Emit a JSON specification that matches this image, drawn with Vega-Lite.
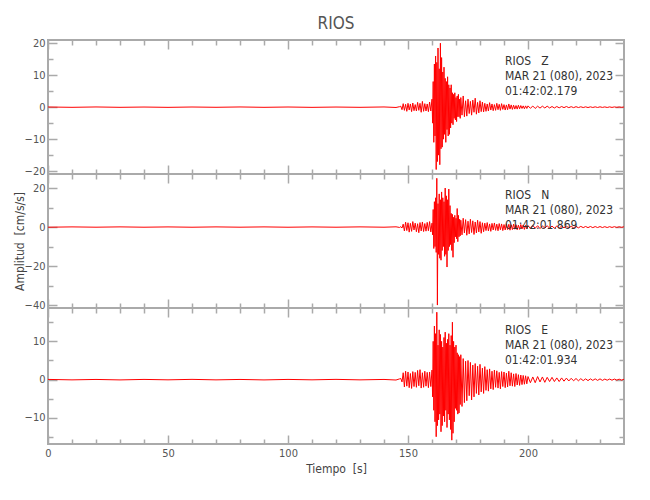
{
  "$schema": "https://vega.github.io/schema/vega-lite/v6.json",
  "padding": {"left": 12, "top": 15, "right": 5, "bottom": 5},
  "background": "white",
  "title": {"text": "RIOS", "anchor": "middle", "frame": "group", "fontSize": 17, "font": "DejaVu Sans Condensed, sans-serif", "fontWeight": "normal", "color": "#555555", "offset": 3},
  "data": {"values": [
    {"t":0,"z":0.05,"n":-0.08,"e":0.06},{"t":10,"z":-0.05,"n":0.08,"e":-0.06},{"t":20,"z":0.06,"n":-0.07,"e":0.05},{"t":30,"z":-0.05,"n":0.09,"e":-0.07},{"t":40,"z":0.04,"n":-0.08,"e":0.06},{"t":50,"z":-0.06,"n":0.07,"e":-0.05},{"t":60,"z":0.05,"n":-0.09,"e":0.07},{"t":70,"z":-0.04,"n":0.08,"e":-0.06},{"t":80,"z":0.06,"n":-0.07,"e":0.05},{"t":90,"z":-0.05,"n":0.08,"e":-0.07},{"t":100,"z":0.05,"n":-0.09,"e":0.06},{"t":110,"z":-0.06,"n":0.07,"e":-0.05},{"t":120,"z":0.04,"n":-0.08,"e":0.07},{"t":130,"z":-0.05,"n":0.09,"e":-0.06},{"t":140,"z":0.06,"n":-0.08,"e":0.05},{"t":145,"z":-0.1,"n":0.12,"e":-0.1},{"t":146.5,"z":0.15,"n":-0.2,"e":0.2},
    {"t":147,"z":0.3,"n":0.2,"e":0.3},{"t":147.5,"z":-0.8,"n":-0.5,"e":-0.6},{"t":148,"z":1.1,"n":1.5,"e":1.8},{"t":148.5,"z":-1.0,"n":-2.0,"e":-1.9},{"t":149,"z":0.9,"n":2.5,"e":2.2},{"t":149.5,"z":-1.3,"n":-1.8,"e":-1.7},{"t":150,"z":1.2,"n":2.2,"e":2.0},{"t":150.5,"z":-0.9,"n":-2.6,"e":-2.1},{"t":151,"z":1.0,"n":1.9,"e":1.6},{"t":151.5,"z":-1.4,"n":-2.2,"e":-2.3},{"t":152,"z":1.3,"n":2.8,"e":2.1},{"t":152.5,"z":-1.1,"n":-1.5,"e":-1.8},{"t":153,"z":0.8,"n":2.0,"e":1.9},{"t":153.5,"z":-1.2,"n":-2.4,"e":-2.0},{"t":154,"z":1.5,"n":1.7,"e":2.4},{"t":154.5,"z":-1.0,"n":-2.9,"e":-1.6},{"t":155,"z":1.2,"n":2.3,"e":2.6},{"t":155.5,"z":-1.6,"n":-2.0,"e":-2.2},{"t":156,"z":1.8,"n":2.6,"e":1.8},{"t":156.5,"z":-1.3,"n":-2.3,"e":-2.0},{"t":157,"z":1.1,"n":1.8,"e":2.2},{"t":157.5,"z":-1.2,"n":-2.1,"e":-1.7},{"t":158,"z":1.0,"n":2.4,"e":1.9},{"t":158.5,"z":-1.4,"n":-1.9,"e":-2.1},{"t":159,"z":1.6,"n":2.8,"e":2.0},{"t":159.5,"z":-1.2,"n":-2.5,"e":-1.8},
    {"t":160,"z":2.5,"n":2.0,"e":2.5},{"t":160.25,"z":-5.0,"n":-4.0,"e":-4.5},{"t":160.5,"z":8.0,"n":9.0,"e":10.0},{"t":160.75,"z":-11.0,"n":-11.0,"e":-8.0},{"t":161,"z":13.5,"n":13.0,"e":14.0},{"t":161.25,"z":-9.0,"n":-10.0,"e":-11.0},{"t":161.5,"z":16.0,"n":15.0,"e":12.0},{"t":161.75,"z":-19.5,"n":-13.0,"e":-14.9},{"t":162,"z":14.0,"n":25.0,"e":17.6},{"t":162.25,"z":-17.0,"n":-40.0,"e":-12.0},{"t":162.5,"z":18.5,"n":12.0,"e":9.0},{"t":162.75,"z":-15.0,"n":-14.0,"e":-10.5},{"t":163,"z":12.0,"n":17.0,"e":13.0},{"t":163.25,"z":-18.0,"n":-16.0,"e":-9.0},{"t":163.5,"z":20.0,"n":14.0,"e":11.8},{"t":163.75,"z":-13.0,"n":-17.0,"e":-13.6},{"t":164,"z":15.5,"n":18.0,"e":10.0},{"t":164.25,"z":-12.5,"n":-12.0,"e":-12.0},{"t":164.5,"z":11.0,"n":15.0,"e":8.5},{"t":164.75,"z":-10.0,"n":-10.0,"e":-9.5},{"t":165,"z":12.5,"n":13.0,"e":11.0},{"t":165.25,"z":-8.5,"n":-15.0,"e":-11.0},{"t":165.5,"z":9.0,"n":20.0,"e":12.4},{"t":165.75,"z":-11.0,"n":-14.0,"e":-8.0},{"t":166,"z":8.0,"n":16.0,"e":9.5},{"t":166.25,"z":-7.0,"n":-20.5,"e":-12.5},{"t":166.5,"z":9.5,"n":14.0,"e":10.5},{"t":166.75,"z":-9.0,"n":-12.0,"e":-9.0},{"t":167,"z":7.0,"n":19.5,"e":12.0},{"t":167.25,"z":-8.5,"n":-10.0,"e":-10.5},{"t":167.5,"z":6.0,"n":11.0,"e":9.0},{"t":167.75,"z":-6.5,"n":-9.0,"e":-13.0},{"t":168,"z":7.0,"n":7.0,"e":11.5},{"t":168.25,"z":-5.0,"n":-12.0,"e":-15.8},{"t":168.5,"z":4.5,"n":6.5,"e":15.0},{"t":168.75,"z":-5.5,"n":-15.5,"e":-14.0},{"t":169,"z":4.0,"n":5.0,"e":10.0},{"t":169.25,"z":-3.5,"n":-8.0,"e":-11.0},{"t":169.5,"z":4.5,"n":6.0,"e":8.5},{"t":169.75,"z":-4.0,"n":-5.0,"e":-7.5},{"t":170,"z":3.0,"n":4.5,"e":9.0},{"t":170.25,"z":-4.5,"n":-6.0,"e":-8.0},{"t":170.5,"z":3.5,"n":9.5,"e":7.0},{"t":170.75,"z":-3.0,"n":-7.5,"e":-9.0},{"t":171,"z":4.0,"n":6.0,"e":6.5},{"t":171.25,"z":-3.0,"n":-5.0,"e":-8.7},{"t":171.5,"z":2.5,"n":4.0,"e":6.0},{"t":171.75,"z":-3.5,"n":-4.5,"e":-6.5},
    {"t":172,"z":3.0,"n":3.5,"e":6.5},{"t":172.5,"z":-2.5,"n":-4.0,"e":-7.0},{"t":173,"z":3.5,"n":4.5,"e":5.5},{"t":173.5,"z":-3.0,"n":-3.0,"e":-6.0},{"t":174,"z":2.0,"n":3.8,"e":4.8},{"t":174.5,"z":-2.8,"n":-4.2,"e":-5.5},{"t":175,"z":2.5,"n":3.0,"e":5.0},{"t":175.5,"z":-2.0,"n":-3.5,"e":-4.2},{"t":176,"z":1.8,"n":4.0,"e":4.5},{"t":176.5,"z":-2.5,"n":-2.8,"e":-5.3},{"t":177,"z":2.2,"n":3.2,"e":3.8},{"t":177.5,"z":-1.6,"n":-3.8,"e":-4.5},{"t":178,"z":2.8,"n":2.6,"e":4.2},{"t":178.5,"z":-2.2,"n":-3.0,"e":-3.6},{"t":179,"z":1.5,"n":3.5,"e":3.5},{"t":179.5,"z":-1.8,"n":-2.5,"e":-4.0},{"t":180,"z":2.0,"n":2.8,"e":4.0},{"t":180.5,"z":-1.4,"n":-3.2,"e":-3.2},{"t":181,"z":1.6,"n":2.2,"e":3.0},{"t":181.5,"z":-1.5,"n":-2.4,"e":-3.6},{"t":182,"z":1.2,"n":2.0,"e":3.4},{"t":182.5,"z":-1.3,"n":-1.8,"e":-2.8},{"t":183,"z":1.0,"n":2.3,"e":2.6},{"t":183.5,"z":-1.2,"n":-2.0,"e":-3.0},{"t":184,"z":1.4,"n":1.6,"e":2.8},{"t":184.5,"z":-0.9,"n":-2.2,"e":-2.4},{"t":185,"z":1.0,"n":1.9,"e":2.2},{"t":185.5,"z":-1.1,"n":-1.5,"e":-2.6},{"t":186,"z":0.8,"n":2.1,"e":2.5},{"t":186.5,"z":-1.0,"n":-1.7,"e":-2.0},{"t":187,"z":1.2,"n":1.5,"e":2.3},{"t":187.5,"z":-0.8,"n":-1.9,"e":-2.2},{"t":188,"z":0.9,"n":1.8,"e":1.9},{"t":188.5,"z":-1.0,"n":-1.4,"e":-2.4},{"t":189,"z":1.1,"n":1.6,"e":2.1},{"t":189.5,"z":-0.7,"n":-1.8,"e":-1.8},{"t":190,"z":0.8,"n":1.3,"e":2.0},{"t":190.5,"z":-0.9,"n":-1.5,"e":-2.1},{"t":191,"z":0.7,"n":1.7,"e":1.7},{"t":191.5,"z":-0.8,"n":-1.3,"e":-1.9},{"t":192,"z":1.0,"n":1.4,"e":2.2},{"t":192.5,"z":-0.6,"n":-1.6,"e":-1.6},{"t":193,"z":0.7,"n":1.2,"e":1.8},{"t":193.5,"z":-0.7,"n":-1.3,"e":-1.7},{"t":194,"z":0.6,"n":1.5,"e":1.5},{"t":194.5,"z":-0.6,"n":-1.1,"e":-1.8},{"t":195,"z":0.5,"n":1.2,"e":1.6},{"t":195.5,"z":-0.6,"n":-1.4,"e":-1.4},{"t":196,"z":0.6,"n":1.0,"e":1.3},{"t":196.5,"z":-0.5,"n":-1.2,"e":-1.5},{"t":197,"z":0.5,"n":1.3,"e":1.2},{"t":197.5,"z":-0.4,"n":-1.0,"e":-1.3},{"t":198,"z":0.4,"n":1.1,"e":1.1},{"t":198.5,"z":-0.5,"n":-1.2,"e":-1.2},{"t":199,"z":0.4,"n":0.9,"e":1.0},{"t":199.5,"z":-0.4,"n":-1.0,"e":-1.1},
    {"t":200,"z":0.4,"n":0.8,"e":0.8},{"t":201,"z":-0.35,"n":-0.7,"e":-0.8},{"t":202,"z":0.35,"n":0.8,"e":0.7},{"t":203,"z":-0.4,"n":-0.6,"e":-0.8},{"t":204,"z":0.3,"n":0.7,"e":0.8},{"t":205,"z":-0.3,"n":-0.8,"e":-0.6},{"t":206,"z":0.3,"n":0.6,"e":0.7},{"t":207,"z":-0.25,"n":-0.6,"e":-0.7},{"t":208,"z":0.3,"n":0.7,"e":0.6},{"t":209,"z":-0.25,"n":-0.6,"e":-0.5},{"t":210,"z":0.2,"n":0.5,"e":0.6},{"t":211,"z":-0.25,"n":-0.6,"e":-0.5},{"t":212,"z":0.2,"n":0.5,"e":0.45},{"t":213,"z":-0.2,"n":-0.5,"e":-0.5},{"t":214,"z":0.2,"n":0.45,"e":0.45},{"t":215,"z":-0.15,"n":-0.4,"e":-0.4},{"t":216,"z":0.2,"n":0.45,"e":0.4},{"t":217,"z":-0.15,"n":-0.4,"e":-0.35},{"t":218,"z":0.15,"n":0.4,"e":0.35},{"t":219,"z":-0.15,"n":-0.4,"e":-0.3},{"t":220,"z":0.15,"n":0.35,"e":0.3},{"t":221,"z":-0.12,"n":-0.4,"e":-0.3},{"t":222,"z":0.12,"n":0.35,"e":0.25},{"t":223,"z":-0.12,"n":-0.3,"e":-0.25},{"t":224,"z":0.1,"n":0.3,"e":0.2},{"t":225,"z":-0.12,"n":-0.3,"e":-0.25},{"t":226,"z":0.1,"n":0.3,"e":0.2},{"t":227,"z":-0.1,"n":-0.3,"e":-0.2},{"t":228,"z":0.1,"n":0.25,"e":0.2},{"t":229,"z":-0.1,"n":-0.25,"e":-0.2},{"t":230,"z":0.1,"n":0.25,"e":0.2},{"t":231,"z":-0.08,"n":-0.25,"e":-0.2},{"t":232,"z":0.08,"n":0.2,"e":0.15},{"t":233,"z":-0.1,"n":-0.25,"e":-0.15},{"t":234,"z":0.08,"n":0.2,"e":0.15},{"t":235,"z":-0.08,"n":-0.2,"e":-0.15},{"t":236,"z":0.08,"n":0.2,"e":0.15},{"t":237,"z":-0.06,"n":-0.2,"e":-0.12},{"t":238,"z":0.06,"n":0.15,"e":0.12},{"t":239,"z":-0.06,"n":-0.15,"e":-0.12},{"t":240,"z":0.05,"n":0.15,"e":0.1}
  ]},
  "spacing": 0,
  "bounds": "flush",
  "vconcat": [
    {
      "width": 576, "height": 134,
      "layer": [
        {"mark": {"type": "line", "color": "#ff0000", "strokeWidth": 1, "clip": true},
         "encoding": {
           "x": {"field": "t", "type": "quantitative", "scale": {"domain": [0, 240], "nice": false, "zero": false},
                 "axis": {"orient": "bottom", "values": [0, 50, 100, 150, 200], "labels": false, "title": null, "tickSize": -9}},
           "y": {"field": "z", "type": "quantitative", "scale": {"domain": [-20.9, 21], "nice": false, "zero": false},
                 "axis": {"orient": "left", "values": [-20, -10, 0, 10, 20], "title": null, "tickSize": -9, "labelPadding": 12}}
         }},
        {"data": {"values": [{}]}, "mark": {"type": "point", "opacity": 0},
         "encoding": {
           "x": {"datum": 0, "type": "quantitative", "axis": {"orient": "bottom", "values": [10,20,30,40,60,70,80,90,110,120,130,140,160,170,180,190,210,220,230], "labels": false, "title": null, "tickSize": -5}},
           "y": {"datum": 0, "type": "quantitative", "axis": {"orient": "left", "values": [-15, -5, 5, 15], "labels": false, "title": null, "tickSize": -5}}
         }},
        {"data": {"values": [{}]}, "mark": {"type": "point", "opacity": 0},
         "encoding": {
           "x": {"datum": 0, "type": "quantitative", "axis": {"orient": "top", "values": [0, 50, 100, 150, 200], "labels": false, "title": null, "tickSize": -9}},
           "y": {"datum": 0, "type": "quantitative", "axis": {"orient": "right", "values": [-20, -10, 0, 10, 20], "labels": false, "title": null, "tickSize": -9}}
         }},
        {"data": {"values": [{}]}, "mark": {"type": "point", "opacity": 0},
         "encoding": {
           "x": {"datum": 0, "type": "quantitative", "axis": {"orient": "top", "values": [10,20,30,40,60,70,80,90,110,120,130,140,160,170,180,190,210,220,230], "labels": false, "title": null, "tickSize": -5}},
           "y": {"datum": 0, "type": "quantitative", "axis": {"orient": "right", "values": [-15, -5, 5, 15], "labels": false, "title": null, "tickSize": -5}}
         }},
        {"data": {"values": [{}]},
         "mark": {"type": "text", "text": ["RIOS\u00a0\u00a0\u00a0Z", "MAR 21 (080), 2023", "01:42:02.179"], "align": "left", "baseline": "top", "fontSize": 12, "lineHeight": 15, "color": "#333333", "font": "DejaVu Sans Condensed, sans-serif"},
         "encoding": {
           "x": {"datum": 190.4, "type": "quantitative", "axis": null},
           "y": {"datum": 15.9, "type": "quantitative", "axis": null}
         }}
      ],
      "resolve": {"axis": {"x": "independent", "y": "independent"}}
    },
    {
      "width": 576, "height": 134,
      "layer": [
        {"mark": {"type": "line", "color": "#ff0000", "strokeWidth": 1, "clip": true},
         "encoding": {
           "x": {"field": "t", "type": "quantitative", "scale": {"domain": [0, 240], "nice": false, "zero": false},
                 "axis": {"orient": "bottom", "values": [0, 50, 100, 150, 200], "labels": false, "title": null, "tickSize": -9}},
           "y": {"field": "n", "type": "quantitative", "scale": {"domain": [-41.5, 27.2], "nice": false, "zero": false},
                 "axis": {"orient": "left", "values": [-40, -20, 0, 20], "title": "Amplitud\u00a0\u00a0[cm/s/s]", "titlePadding": -2, "tickSize": -9, "labelPadding": 12}}
         }},
        {"data": {"values": [{}]}, "mark": {"type": "point", "opacity": 0},
         "encoding": {
           "x": {"datum": 0, "type": "quantitative", "axis": {"orient": "bottom", "values": [10,20,30,40,60,70,80,90,110,120,130,140,160,170,180,190,210,220,230], "labels": false, "title": null, "tickSize": -5}},
           "y": {"datum": 0, "type": "quantitative", "axis": {"orient": "left", "values": [-30, -10, 10], "labels": false, "title": null, "tickSize": -5}}
         }},
        {"data": {"values": [{}]}, "mark": {"type": "point", "opacity": 0},
         "encoding": {
           "x": {"datum": 0, "type": "quantitative", "axis": {"orient": "top", "values": [0, 50, 100, 150, 200], "labels": false, "title": null, "tickSize": -9}},
           "y": {"datum": 0, "type": "quantitative", "axis": {"orient": "right", "values": [-40, -20, 0, 20], "labels": false, "title": null, "tickSize": -9}}
         }},
        {"data": {"values": [{}]}, "mark": {"type": "point", "opacity": 0},
         "encoding": {
           "x": {"datum": 0, "type": "quantitative", "axis": {"orient": "top", "values": [10,20,30,40,60,70,80,90,110,120,130,140,160,170,180,190,210,220,230], "labels": false, "title": null, "tickSize": -5}},
           "y": {"datum": 0, "type": "quantitative", "axis": {"orient": "right", "values": [-30, -10, 10], "labels": false, "title": null, "tickSize": -5}}
         }},
        {"data": {"values": [{}]},
         "mark": {"type": "text", "text": ["RIOS\u00a0\u00a0\u00a0N", "MAR 21 (080), 2023", "01:42:01.869"], "align": "left", "baseline": "top", "fontSize": 12, "lineHeight": 15, "color": "#333333", "font": "DejaVu Sans Condensed, sans-serif"},
         "encoding": {
           "x": {"datum": 190.4, "type": "quantitative", "axis": null},
           "y": {"datum": 19.0, "type": "quantitative", "axis": null}
         }}
      ],
      "resolve": {"axis": {"x": "independent", "y": "independent"}}
    },
    {
      "width": 576, "height": 136,
      "layer": [
        {"mark": {"type": "line", "color": "#ff0000", "strokeWidth": 1, "clip": true},
         "encoding": {
           "x": {"field": "t", "type": "quantitative", "scale": {"domain": [0, 240], "nice": false, "zero": false},
                 "axis": {"orient": "bottom", "values": [0, 50, 100, 150, 200], "title": "Tiempo\u00a0\u00a0[s]", "tickSize": -9, "labelPadding": 12, "titlePadding": 5}},
           "y": {"field": "e", "type": "quantitative", "scale": {"domain": [-16.8, 18.7], "nice": false, "zero": false},
                 "axis": {"orient": "left", "values": [-10, 0, 10], "title": null, "tickSize": -9, "labelPadding": 12}}
         }},
        {"data": {"values": [{}]}, "mark": {"type": "point", "opacity": 0},
         "encoding": {
           "x": {"datum": 0, "type": "quantitative", "axis": {"orient": "bottom", "values": [10,20,30,40,60,70,80,90,110,120,130,140,160,170,180,190,210,220,230], "labels": false, "title": null, "tickSize": -5}},
           "y": {"datum": 0, "type": "quantitative", "axis": {"orient": "left", "values": [-15, -5, 5, 15], "labels": false, "title": null, "tickSize": -5}}
         }},
        {"data": {"values": [{}]}, "mark": {"type": "point", "opacity": 0},
         "encoding": {
           "x": {"datum": 0, "type": "quantitative", "axis": {"orient": "top", "values": [0, 50, 100, 150, 200], "labels": false, "title": null, "tickSize": -9}},
           "y": {"datum": 0, "type": "quantitative", "axis": {"orient": "right", "values": [-10, 0, 10], "labels": false, "title": null, "tickSize": -9}}
         }},
        {"data": {"values": [{}]}, "mark": {"type": "point", "opacity": 0},
         "encoding": {
           "x": {"datum": 0, "type": "quantitative", "axis": {"orient": "top", "values": [10,20,30,40,60,70,80,90,110,120,130,140,160,170,180,190,210,220,230], "labels": false, "title": null, "tickSize": -5}},
           "y": {"datum": 0, "type": "quantitative", "axis": {"orient": "right", "values": [-15, -5, 5, 15], "labels": false, "title": null, "tickSize": -5}}
         }},
        {"data": {"values": [{}]},
         "mark": {"type": "text", "text": ["RIOS\u00a0\u00a0\u00a0E", "MAR 21 (080), 2023", "01:42:01.934"], "align": "left", "baseline": "top", "fontSize": 12, "lineHeight": 15, "color": "#333333", "font": "DejaVu Sans Condensed, sans-serif"},
         "encoding": {
           "x": {"datum": 190.4, "type": "quantitative", "axis": null},
           "y": {"datum": 14.2, "type": "quantitative", "axis": null}
         }}
      ],
      "resolve": {"axis": {"x": "independent", "y": "independent"}}
    }
  ],
  "config": {
    "view": {"stroke": "#aaaaaa", "strokeWidth": 2},
    "axis": {
      "domain": false, "grid": false, "tickColor": "#aaaaaa", "tickWidth": 1.5, "labelFlush": false, "minExtent": 0,
      "labelFont": "DejaVu Sans Condensed, sans-serif", "labelFontSize": 11, "labelColor": "#555555",
      "titleFont": "DejaVu Sans Condensed, sans-serif", "titleFontSize": 12, "titleFontWeight": "normal", "titleColor": "#444444"
    }
  }
}
